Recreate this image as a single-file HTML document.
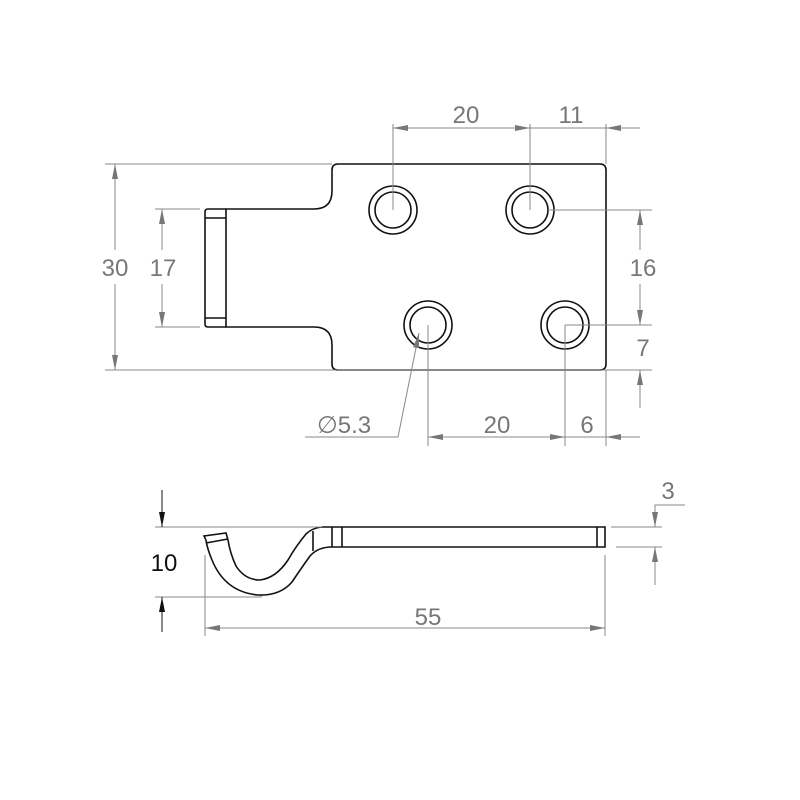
<!DOCTYPE html>
<html><head><style>body{margin:0;background:#fff}svg{display:block}</style></head>
<body>
<svg width="800" height="800" viewBox="0 0 800 800" xmlns="http://www.w3.org/2000/svg">
<defs>
<marker id="a" viewBox="0 0 10 4" refX="10" refY="2" markerWidth="16" markerHeight="6" markerUnits="userSpaceOnUse" orient="auto-start-reverse"><path d="M0,0L10,2L0,4z" fill="#777"/></marker>
<marker id="b" viewBox="0 0 10 4" refX="10" refY="2" markerWidth="16" markerHeight="6" markerUnits="userSpaceOnUse" orient="auto-start-reverse"><path d="M0,0L10,2L0,4z" fill="#111"/></marker>
</defs>
<g fill="none" stroke="#111" stroke-width="1.6">
<path d="M338,164 H600 Q606,164 606,170 V364 Q606,370 600,370 H338 Q332,370 332,364 V345 Q332,327 314,327 H226 V209 H314 Q332,209 332,191 V170 Q332,164 338,164 Z"/>
<path d="M226,209 H208 Q205,209 205,212 V324 Q205,327 208,327 H226"/>
<line x1="205" y1="218" x2="226" y2="218"/><line x1="205" y1="318" x2="226" y2="318"/>
<circle cx="393" cy="210" r="24"/><circle cx="393" cy="210" r="18"/>
<circle cx="530" cy="210" r="24"/><circle cx="530" cy="210" r="18"/>
<circle cx="428" cy="325" r="24"/><circle cx="428" cy="325" r="18"/>
<circle cx="565" cy="325" r="24"/><circle cx="565" cy="325" r="18"/>
<path d="M322,527 H605 V547 H332 Q318,547 310,556 Q300,570 292,582 Q280,596 258,595 Q225,592 212,560 Q207,548 206,540"/>
<path d="M322,527 Q312,528 306,534 Q296,546 288,560 Q276,578 260,580 Q245,580 236,566 Q230,553 228,540"/>
<path d="M206,540 L204,536 L226,533 L228,540"/>
<line x1="206" y1="543" x2="228" y2="539"/>
<line x1="313" y1="531" x2="313" y2="551"/>
<line x1="332" y1="527" x2="332" y2="547"/><line x1="342" y1="527" x2="342" y2="547"/>
<line x1="597" y1="527" x2="597" y2="547"/>
</g>
<g stroke="#888" stroke-width="1" fill="none">
<line x1="393" y1="124" x2="393" y2="210"/><line x1="530" y1="124" x2="530" y2="210"/><line x1="606" y1="124" x2="606" y2="164"/>
<line x1="393" y1="128" x2="530" y2="128" marker-start="url(#a)" marker-end="url(#a)"/>
<line x1="530" y1="128" x2="640" y2="128"/>
<line x1="640" y1="128" x2="606" y2="128" marker-end="url(#a)"/>
<line x1="105" y1="164" x2="332" y2="164"/><line x1="105" y1="370" x2="606" y2="370"/>
<line x1="115" y1="164" x2="115" y2="250" marker-start="url(#a)"/><line x1="115" y1="284" x2="115" y2="370" marker-end="url(#a)"/>
<line x1="155" y1="209" x2="200" y2="209"/><line x1="155" y1="327" x2="200" y2="327"/>
<line x1="162" y1="209" x2="162" y2="250" marker-start="url(#a)"/><line x1="162" y1="284" x2="162" y2="327" marker-end="url(#a)"/>
<line x1="548" y1="210" x2="652" y2="210"/><line x1="565" y1="325" x2="652" y2="325"/><line x1="606" y1="370" x2="652" y2="370"/>
<line x1="640" y1="210" x2="640" y2="250" marker-start="url(#a)"/><line x1="640" y1="284" x2="640" y2="325" marker-end="url(#a)"/>
<line x1="640" y1="408" x2="640" y2="370" marker-end="url(#a)"/>
<line x1="428" y1="325" x2="428" y2="446"/><line x1="565" y1="325" x2="565" y2="446"/><line x1="606" y1="370" x2="606" y2="446"/>
<line x1="428" y1="437" x2="565" y2="437" marker-start="url(#a)" marker-end="url(#a)"/>
<line x1="565" y1="437" x2="640" y2="437"/>
<line x1="640" y1="437" x2="606" y2="437" marker-end="url(#a)"/>
<polyline points="305,437 398,437 419,333" marker-end="url(#a)"/>
<line x1="155" y1="527" x2="322" y2="527"/><line x1="155" y1="597" x2="262" y2="597"/>
<line x1="205" y1="555" x2="205" y2="636"/><line x1="605" y1="555" x2="605" y2="636"/>
<line x1="205" y1="628" x2="605" y2="628" marker-start="url(#a)" marker-end="url(#a)"/>
<line x1="611" y1="527" x2="662" y2="527"/><line x1="616" y1="547" x2="662" y2="547"/>
<polyline points="685,505 655,505 655,527" marker-end="url(#a)"/>
<line x1="655" y1="585" x2="655" y2="547" marker-end="url(#a)"/>
</g>
<g stroke="#111" stroke-width="1">
<line x1="162" y1="490" x2="162" y2="527" marker-end="url(#b)"/>
<line x1="162" y1="632" x2="162" y2="597" marker-end="url(#b)"/>
</g>
<g font-family="Liberation Sans, sans-serif" font-size="24" fill="#777" text-anchor="middle">
<text x="466" y="123">20</text><text x="571" y="123">11</text>
<text x="115" y="276">30</text><text x="163" y="276">17</text>
<text x="643" y="276">16</text><text x="643" y="356">7</text>
<text x="497" y="433">20</text><text x="587" y="433">6</text>
<text x="344" y="433"><tspan font-family="DejaVu Sans, sans-serif">∅</tspan>5.3</text>
<text x="428" y="625">55</text><text x="668" y="499">3</text>
<text x="164" y="571" fill="#111">10</text>
</g>
</svg>
</body></html>
